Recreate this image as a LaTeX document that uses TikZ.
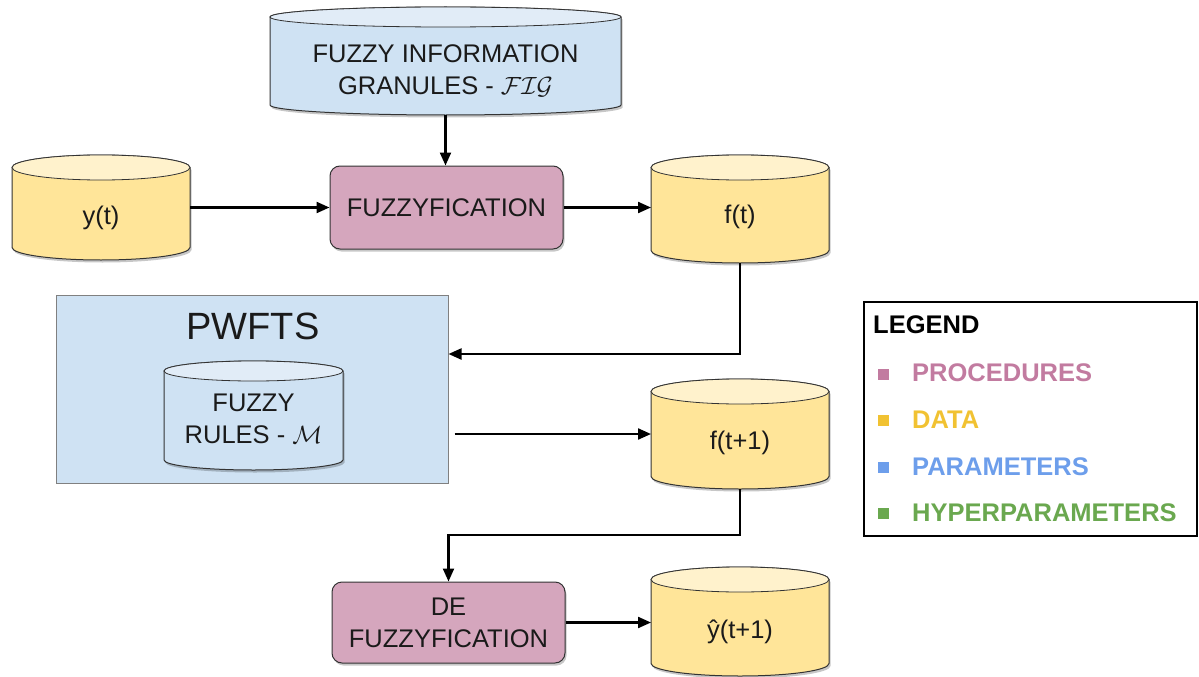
\documentclass[tikz,border=0pt]{standalone}
\usepackage{fontspec}
\setmainfont{Liberation Sans}
\usetikzlibrary{arrows.meta,shadows,calc}
\definecolor{ybody}{HTML}{FFE599}
\definecolor{ytop}{HTML}{FFF2CC}
\definecolor{bbody}{HTML}{CFE2F3}
\definecolor{btop}{HTML}{E1ECF7}
\definecolor{pbody}{HTML}{D5A6BD}
\definecolor{edge}{HTML}{333333}
\definecolor{txtc}{HTML}{1A1A1A}
\definecolor{cproc}{HTML}{C27BA0}
\definecolor{cdata}{HTML}{F1C232}
\definecolor{cpar}{HTML}{6D9EEB}
\definecolor{chyp}{HTML}{6AA84F}

\newcommand\drawcyl[8]{%
  \pgfmathsetmacro\cylcx{(#2+#4)/2}%
  \pgfmathsetmacro\cylcy{(#3+#5)/2}%
  \pgfmathsetmacro\cyla{(#4-#2)/2}%
  \pgfmathsetmacro\cylw{#4-#2}%
  \pgfmathsetmacro\cylh{#5-#3}%
  \pgfmathsetmacro\cylt{#3+#6}%
  \pgfmathsetmacro\cylb{#5-#6}%
  \fill[black,opacity=0.22,shift={(1.5,2.5)}] (#2,\cylt) -- (#2,\cylb) arc[start angle=180,end angle=0,x radius=\cyla,y radius=#6] -- (#4,\cylt) arc[start angle=0,end angle=-180,x radius=\cyla,y radius=#6] -- cycle;
  \filldraw[fill=#7,draw=edge,line width=1pt] (#2,\cylt) -- (#2,\cylb) arc[start angle=180,end angle=0,x radius=\cyla,y radius=#6] -- (#4,\cylt) arc[start angle=0,end angle=-180,x radius=\cyla,y radius=#6] -- cycle;
  \filldraw[fill=#8,draw=edge,line width=0.8pt] (\cylcx,\cylt) ellipse[x radius=\cyla,y radius=#6];
  \node[inner sep=0,outer sep=0,minimum width=\cylw pt,minimum height=\cylh pt] (#1) at (\cylcx,\cylcy) {};
}

\tikzset{
  txt/.style={font=\fontsize{25.5}{32}\selectfont, text=txtc, align=center, inner sep=0},
  proc/.style={draw=edge, line width=1pt, fill=pbody, rounded corners=10pt, inner sep=0,
    drop shadow={shadow xshift=1.5pt, shadow yshift=-2.5pt, fill=black, opacity=0.22},
    font=\fontsize{25.5}{32}\selectfont, text=txtc, align=center},
  arr/.style={-{Triangle[length=13pt,width=11pt]}, line width=2.2pt, black},
  lgd/.style={font=\fontsize{25.5}{32}\selectfont\bfseries, inner sep=0, anchor=west},
  sq/.style={minimum size=11pt, inner sep=0}
}

\begin{document}
\begin{tikzpicture}[x=1pt,y=-1pt]
\useasboundingbox (0,0) rectangle (1199,677);

% top parameter cylinder
\drawcyl{fig}{270}{7}{621}{115}{10}{bbody}{btop}
\node[txt] (figt) at (445.5,71) {FUZZY INFORMATION\\GRANULES - $\mathcal{FIG}$};

% data cylinders
\drawcyl{yt}{12}{155}{190}{260}{12.5}{ybody}{ytop}
\node[txt] (ytt) at (101,218) {y(t)};
\drawcyl{ft}{651}{155}{829}{263}{12.5}{ybody}{ytop}
\node[txt] (ftt) at (740,217) {f(t)};
\drawcyl{ft1}{651}{379}{829}{489}{12.5}{ybody}{ytop}
\node[txt] (ft1t) at (740,443) {f(t+1)};
\drawcyl{yh}{651}{567}{829}{676}{12.5}{ybody}{ytop}
\node[txt] (yht) at (740,632) {ŷ(t+1)};

% procedures
\node[proc, minimum width=233pt, minimum height=83pt] (fuzz) at (446.5,207.5) {FUZZYFICATION};
\node[proc, minimum width=233pt, minimum height=81pt] (defuz) at (448.5,622.5) {DE\\FUZZYFICATION};

% PWFTS model
\node[draw=gray, line width=1pt, fill=bbody, minimum width=392pt, minimum height=188pt, inner sep=0] (pw) at (252,389) {};
\node[font=\fontsize{38}{40}\selectfont, text=txtc, inner sep=0] (pwt) at (253,326) {PWFTS};
\drawcyl{rules}{164}{361}{343}{470}{10}{bbody}{btop}
\node[txt] (rulest) at (253.5,419) {FUZZY\\RULES - $\mathcal{M}$};

% connectors
\coordinate (j1) at (741,354);
\coordinate (j2) at (741,535);
\draw[arr] (fig.south) -- (fig.south |- fuzz.north);
\draw[arr] (yt.east |- fuzz.west) -- (fuzz.west);
\draw[arr] (fuzz.east) -- (fuzz.east -| ft.west);
\draw[arr] (ft.south) |- (pw.east |- j1);
\draw[arr] ([xshift=6pt]pw.east |- ft1.west) -- (ft1.west);
\draw[arr] (ft1.south) -- (ft1.south |- j2) -| (defuz.north);
\draw[arr] (defuz.east) -- (defuz.east -| yh.west);

% legend
\node[draw=black, line width=1.6pt, minimum width=333pt, minimum height=234pt, inner sep=0] (leg) at (1030.5,419) {};
\node[lgd] (legt) at (873,325) {LEGEND};
\node[sq, fill=cproc] (sq1) at (883,374) {};
\node[lgd, text=cproc] (l1) at (912,373) {PROCEDURES};
\node[sq, fill=cdata] (sq2) at (883,420) {};
\node[lgd, text=cdata] (l2) at (912,420) {DATA};
\node[sq, fill=cpar] (sq3) at (883,467) {};
\node[lgd, text=cpar] (l3) at (912,467) {PARAMETERS};
\node[sq, fill=chyp] (sq4) at (883,513) {};
\node[lgd, text=chyp] (l4) at (912,513) {HYPERPARAMETERS};
\end{tikzpicture}
\end{document}
